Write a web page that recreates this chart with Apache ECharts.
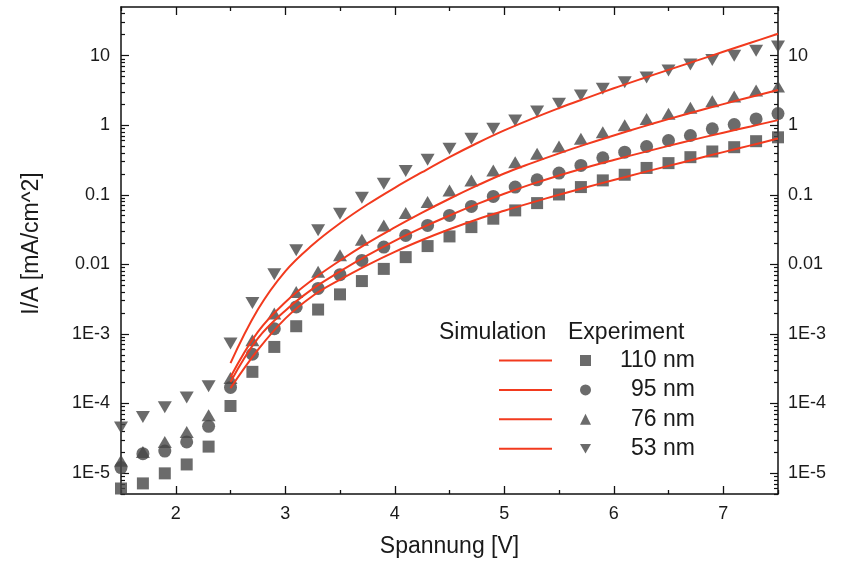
<!DOCTYPE html>
<html><head><meta charset="utf-8">
<script src="https://cdn.jsdelivr.net/npm/echarts@6/dist/echarts.min.js"></script>
<style>html,body{margin:0;padding:0;background:#fff}#c{width:846px;height:564px}</style>
</head><body><div id="c"></div>
<script>
// Experimental voltages (V)
const expVoltage = [1.5,1.7,1.9,2.1,2.3,2.5,2.7,2.9,3.1,3.3,3.5,3.7,3.9,4.1,4.3,4.5,4.7,4.9,5.1,5.3,5.5,5.7,5.9,6.1,6.3,6.5,6.7,6.9,7.1,7.3,7.5];
// Experiment current densities (mA/cm^2)
const exp110 = [6e-6,7.1e-6,9.9e-6,1.33e-5,2.4e-5,9.2e-5,2.85e-4,6.5e-4,1.29e-3,2.24e-3,3.7e-3,5.75e-3,8.6e-3,1.27e-2,1.83e-2,2.52e-2,3.43e-2,4.53e-2,5.96e-2,7.59e-2,0.101,0.129,0.161,0.194,0.243,0.285,0.347,0.419,0.483,0.589,0.67];
const exp95 = [1.2e-5,1.9e-5,2.07e-5,2.8e-5,4.7e-5,1.7e-4,5.1e-4,1.19e-3,2.44e-3,4.5e-3,7.1e-3,1.14e-2,1.77e-2,2.6e-2,3.63e-2,5.05e-2,6.8e-2,9.46e-2,0.129,0.164,0.205,0.264,0.34,0.409,0.494,0.603,0.711,0.887,1.02,1.23,1.47];
const exp76 = [1.5e-5,2.0e-5,2.8e-5,3.9e-5,6.8e-5,2.33e-4,8.1e-4,1.96e-3,4.0e-3,7.8e-3,1.35e-2,2.26e-2,3.63e-2,5.45e-2,7.85e-2,0.115,0.161,0.223,0.294,0.388,0.494,0.637,0.794,1.0,1.23,1.46,1.78,2.21,2.58,3.15,3.6];
const exp53 = [4.5e-5,6.4e-5,8.8e-5,1.22e-4,1.77e-4,7.3e-4,2.79e-3,7.2e-3,1.59e-2,3.08e-2,5.35e-2,9.08e-2,0.144,0.219,0.318,0.458,0.637,0.887,1.17,1.58,2.03,2.67,3.33,4.14,4.85,6.1,7.43,8.66,10.0,11.8,13.5];
// Simulation voltages (V)
const simVoltage = [2.5,2.75,3.0,3.25,3.5,3.75,4.0,4.25,4.5,4.75,5.0,5.25,5.5,5.75,6.0,6.25,6.5,6.75,7.0,7.25,7.5];
const sim110 = [1.66e-4,5.89e-4,1.66e-3,3.51e-3,6.03e-3,9.77e-3,1.514e-2,2.24e-2,3.2e-2,4.42e-2,5.89e-2,7.72e-2,0.100,0.128,0.163,0.2065,0.260,0.327,0.410,0.513,0.642];
const sim95 = [2.04e-4,8.61e-4,2.16e-3,4.44e-3,7.9e-3,1.341e-2,2.176e-2,3.37e-2,5.04e-2,7.33e-2,0.1035,0.142,0.1895,0.247,0.316,0.4005,0.504,0.631,0.781,0.960,1.182];
const sim76 = [2.4e-4,1.07e-3,2.85e-3,6.03e-3,1.135e-2,2.02e-2,3.39e-2,5.53e-2,8.76e-2,0.135,0.202,0.285,0.394,0.534,0.712,0.939,1.223,1.576,2.007,2.54,3.20];
const sim53 = [3.8e-4,2.24e-3,7.94e-3,1.91e-2,3.89e-2,7.24e-2,0.126,0.211,0.347,0.550,0.841,1.23,1.76,2.45,3.39,4.62,6.24,8.41,11.35,15.3,20.65];

const thicknessLabels = ['110 nm','95 nm','76 nm','53 nm'];
const legendHeaders = ['Simulation','Experiment'];
const xAxisTitle = 'Spannung [V]';
const yAxisTitle = 'I/A [mA/cm^2]';
const xTickValues = [2,3,4,5,6,7];
const xTickLabels = ['2','3','4','5','6','7'];
const yTickValues = [1e-5,1e-4,1e-3,0.01,0.1,1,10];
const yTickLabels = ['1E-5','1E-4','1E-3','0.01','0.1','1','10'];

const X_MIN = 1.5, X_MAX = 7.5, Y_MIN = 5e-6, Y_MAX = 50;
const RED = '#f23a1e';
const GRAY = '#464646';
const INK = '#1a1a1a';
const FONT = 'Liberation Sans, Arial, sans-serif';

// minor tick positions derived from the axis ranges
const xMinorTicks = [];
for (let v = X_MIN; v <= X_MAX + 1e-9; v += 1) xMinorTicks.push(Math.round(v*10)/10);
const yMinorTicks = [];
for (let d = -6; d <= 1; d++) for (let m = 2; m <= 9; m++) {
  const v = +(m * Math.pow(10, d)).toPrecision(6);
  if (v > Y_MIN*0.999 && v < Y_MAX) yMinorTicks.push(v);
}

function yFmt(v){
  for (let i=0;i<yTickValues.length;i++){
    if (Math.abs(Math.log10(v)-Math.log10(yTickValues[i]))<1e-6) return yTickLabels[i];
  }
  return '';
}
function xFmt(v){
  for (let i=0;i<xTickValues.length;i++){
    if (Math.abs(v-xTickValues[i])<1e-9) return xTickLabels[i];
  }
  return '';
}

const expSets = [exp110, exp95, exp76, exp53];
const simSets = [sim110, sim95, sim76, sim53];
const symbols = ['rect','circle','triangle','path://M0,0L10,0L5,8.6Z'];
const sizes = [12,13,[14,12],[14,12]];

const series = [];
expSets.forEach((arr,i)=>{
  series.push({
    type:'scatter', name: thicknessLabels[i], xAxisIndex:0, yAxisIndex:0,
    data: expVoltage.map((x,j)=>[x,arr[j]]),
    symbol: symbols[i], symbolSize: sizes[i],
    itemStyle:{color:GRAY}, z:2, silent:true
  });
});
simSets.forEach((arr,i)=>{
  series.push({
    type:'line', name: 'Simulation ' + thicknessLabels[i], xAxisIndex:0, yAxisIndex:0,
    data: simVoltage.map((x,j)=>[x,arr[j]]),
    smooth: 0.4, showSymbol:false, symbol:'none',
    lineStyle:{color:RED, width:2}, itemStyle:{color:RED}, z:3, silent:true
  });
});

const lineOn = {show:true, lineStyle:{color:'#111', width:1.5}};
const lineOff = {show:false};
function xAx(pos, major, withLabel){
  return {
    type:'value', min:X_MIN, max:X_MAX, position:pos,
    axisLine: major ? lineOn : lineOff,
    axisTick:{show:true, inside:true, length: major?8:4, customValues: major?xTickValues:xMinorTicks, lineStyle:{color:'#111', width:1.3}},
    axisLabel: withLabel ? {show:true, margin:11, customValues:xTickValues, formatter:xFmt, fontFamily:FONT, fontSize:18, color:INK} : {show:false},
    splitLine:{show:false}
  };
}
function yAx(pos, major, withLabel, margin){
  return {
    type:'log', logBase:10, min:Y_MIN, max:Y_MAX, position:pos,
    axisLine: major ? lineOn : lineOff,
    axisTick:{show:true, inside:true, length: major?8:4, customValues: major?yTickValues:yMinorTicks, lineStyle:{color:'#111', width:1.2}},
    axisLabel: withLabel ? {show:true, margin:margin, customValues:yTickValues, formatter:yFmt, fontFamily:FONT, fontSize:18, color:INK} : {show:false},
    splitLine:{show:false}
  };
}

const xAxes = [xAx('bottom',true,true), xAx('top',true,false), xAx('bottom',false,false), xAx('top',false,false)];
Object.assign(xAxes[0], {name:xAxisTitle, nameLocation:'middle', nameGap:41,
  nameTextStyle:{fontFamily:FONT, fontSize:23, color:INK}});
const yAxes = [yAx('left',true,true,11), yAx('right',true,true,10), yAx('left',false,false), yAx('right',false,false)];
Object.assign(yAxes[0], {name:yAxisTitle, nameLocation:'middle', nameGap:78, nameRotate:90,
  nameTextStyle:{fontFamily:FONT, fontSize:23, color:INK, padding:[0,0,0,14]}});

const chart = echarts.init(document.getElementById('c'), null, {renderer:'canvas'});
chart.setOption({
  animation:false,
  backgroundColor:'#fff',
  grid:{left:121, right:68, top:7, bottom:70, containLabel:false},
  xAxis: xAxes,
  yAxis: yAxes,
  legend:[
    {
      orient:'vertical', left:494, top:344, itemWidth:53, itemHeight:2, itemGap:6.4,
      icon:'rect', selectedMode:false,
      data: thicknessLabels.map(n=>'Simulation ' + n),
      formatter: ()=>'{a|}',
      textStyle:{rich:{a:{width:0, height:22, lineHeight:22, fontSize:23}}}
    },
    {
      orient:'vertical', left:575, top:344, itemWidth:11, itemHeight:11, itemGap:6.4,
      selectedMode:false,
      data: thicknessLabels.map((n,i)=>({name:n, icon: symbols[i]})),
      formatter: n=>'{a|' + n + '}',
      textStyle:{rich:{a:{width:99, align:'right', height:22, lineHeight:22, fontSize:23, fontFamily:FONT, color:INK}}}
    }
  ],
  graphic:[
    {type:'text', left:439, top:321, style:{text:legendHeaders[0], font:'23px ' + FONT, fill:INK}},
    {type:'text', left:568, top:321, style:{text:legendHeaders[1], font:'23px ' + FONT, fill:INK}}
  ],
  series: series
});
</script></body></html>
